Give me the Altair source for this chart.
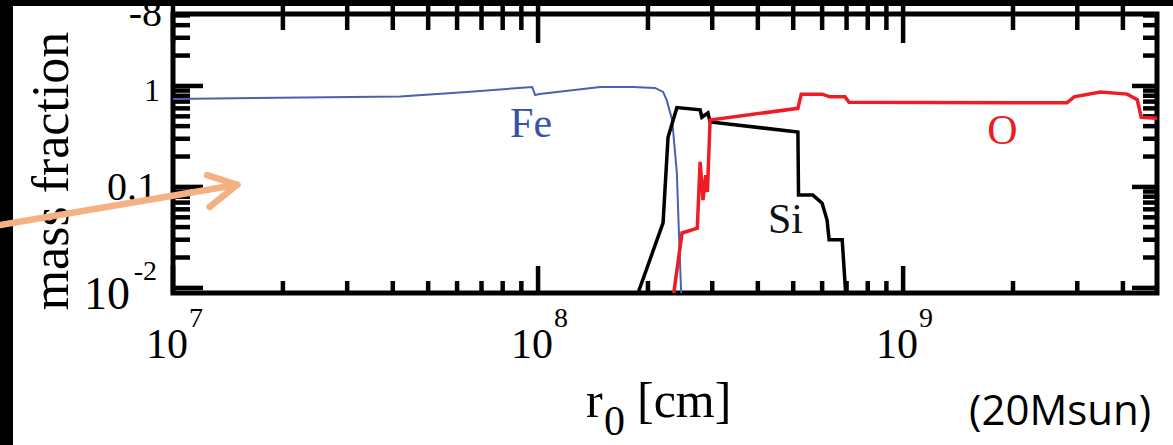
import altair as alt
import pandas as pd

# ---------------- data ----------------
fe_x = [1.0e7, 4.19e7, 6.38e7, 9.64e7, 9.82e7, 1.01e8, 1.48e8, 1.82e8, 2.09e8,
        2.20e8, 2.25e8, 2.33e8, 2.40e8, 2.43e8, 2.47e8]
fe_y = [0.743, 0.787, 0.872, 0.977, 0.814, 0.834, 0.977, 0.977, 0.955,
        0.872, 0.727, 0.461, 0.138, 0.0375, 0.0076]

si_x = [1.85e8, 2.20e8, 2.27e8, 2.40e8, 2.78e8, 2.81e8, 2.92e8, 2.96e8, 5.15e8,
        5.17e8, 5.66e8, 6.00e8, 6.19e8, 6.27e8, 6.81e8, 6.98e8]
si_y = [0.0076, 0.044, 0.31, 0.61, 0.58, 0.49, 0.54, 0.44, 0.35,
        0.083, 0.083, 0.069, 0.047, 0.030, 0.030, 0.0076]

o_x = [2.34e8, 2.48e8, 2.73e8, 2.78e8, 2.83e8, 2.88e8, 2.91e8, 2.96e8, 5.15e8,
       5.26e8, 6.00e8, 6.31e8, 6.93e8, 7.11e8, 2.81e9, 2.94e9, 3.47e9, 4.11e9,
       4.38e9, 4.49e9, 4.96e9]
o_y = [0.0076, 0.035, 0.039, 0.177, 0.074, 0.131, 0.089, 0.46, 0.60,
       0.83, 0.83, 0.78, 0.78, 0.69, 0.68, 0.78, 0.87, 0.83,
       0.73, 0.49, 0.48]

label_text = ["Fe", "Si", "O"]
label_x = [9.57e7, 4.76e8, 1.87e9]
label_y = [0.313, 0.035, 0.267]
label_color = ["#3953a4", "#111111", "#ed1c24"]

x_major = [1e7, 1e8, 1e9]
x_major_exp = ["7", "8", "9"]
x_minor = [2e7, 3e7, 4e7, 5e7, 6e7, 7e7, 8e7, 9e7,
           2e8, 3e8, 4e8, 5e8, 6e8, 7e8, 8e8, 9e8,
           2e9, 3e9, 4e9]
y_major = [0.01, 0.1, 1]
y_minor = [0.02, 0.03, 0.04, 0.05, 0.06, 0.07, 0.08, 0.09,
           0.2, 0.3, 0.4, 0.5, 0.6, 0.7, 0.8, 0.9,
           2, 3, 4, 5]

# annotation arrow (data coordinates)
arrow_x = [3.36e6, 1.50e7]
arrow_y = [0.042, 0.105]
wing_x = [1.24e7, 1.26e7]
wing_y = [0.131, 0.0634]

# ---------------- layout ----------------
W, H = 984, 279
xs = alt.Scale(type="log", domain=[1e7, 4.96e9])
ys = alt.Scale(type="log", domain=[0.0089, 5.16])
SERIF = "Liberation Serif"


def X(f="x"):
    return alt.X(f + ":Q", scale=xs, axis=None)


def Y(f="y"):
    return alt.Y(f + ":Q", scale=ys, axis=None)


def series(xv, yv):
    return pd.DataFrame({"x": xv, "y": yv, "i": list(range(len(xv)))})


layers = []

# ticks
xmaj = pd.DataFrame({"x": x_major, "e": x_major_exp})
xmin = pd.DataFrame({"x": x_minor})
ymaj = pd.DataFrame({"y": y_major})
ymin = pd.DataFrame({"y": y_minor})
tk = dict(color="black", strokeWidth=4.5, strokeCap="butt")
for df, a, b in [(xmaj, H - 27, H), (xmin, H - 12, H), (xmaj, -8, 29), (xmin, -8, 16)]:
    layers.append(alt.Chart(df).mark_rule(**tk).encode(
        x=X(), y=alt.value(a), y2=alt.value(b)))
for df, a, b in [(ymaj, 0, 30), (ymin, 0, 17), (ymaj, W - 25, W), (ymin, W - 14, W)]:
    layers.append(alt.Chart(df).mark_rule(**tk).encode(
        y=Y(), x=alt.value(a), x2=alt.value(b)))

# lines
layers.append(alt.Chart(series(fe_x, fe_y)).mark_line(
    color="#4a60b0", strokeWidth=2, clip=True).encode(x=X(), y=Y(), order="i:Q"))
layers.append(alt.Chart(series(si_x, si_y)).mark_line(
    color="#000000", strokeWidth=3.5, clip=True).encode(x=X(), y=Y(), order="i:Q"))
layers.append(alt.Chart(series(o_x, o_y)).mark_line(
    color="#ee1c24", strokeWidth=3.5, clip=True).encode(x=X(), y=Y(), order="i:Q"))

# series labels
lab = pd.DataFrame({"x": label_x, "y": label_y, "t": label_text, "c": label_color})
layers.append(alt.Chart(lab).mark_text(
    font=SERIF, fontSize=42, align="center", baseline="alphabetic").encode(
    x=X(), y=Y(), text="t:N", color=alt.Color("c:N", scale=None)))

# x tick labels
layers.append(alt.Chart(xmaj).mark_text(
    font=SERIF, fontSize=42, align="right", baseline="alphabetic", dx=15, color="black").encode(
    x=X(), y=alt.value(H + 65), text=alt.value("10")))
layers.append(alt.Chart(xmaj).mark_text(
    font=SERIF, fontSize=28, align="left", baseline="alphabetic", dx=16, color="black").encode(
    x=X(), y=alt.value(H + 34), text="e:N"))

# y tick labels
ylab = pd.DataFrame({"y": [1, 0.1], "t": ["1", "0.1"]})
layers.append(alt.Chart(ylab[ylab.t == "1"]).mark_text(
    font=SERIF, fontSize=32, align="right", baseline="middle", dx=-13, dy=5, color="black").encode(
    y=Y(), x=alt.value(0), text="t:N"))
layers.append(alt.Chart(ylab[ylab.t == "0.1"]).mark_text(
    font=SERIF, fontSize=40, align="right", baseline="middle", dx=-16, dy=1, color="black").encode(
    y=Y(), x=alt.value(0), text="t:N"))
y01 = pd.DataFrame({"y": [0.01]})
layers.append(alt.Chart(y01).mark_text(
    font=SERIF, fontSize=46, align="right", baseline="middle", dx=-43, dy=7, color="black").encode(
    y=Y(), x=alt.value(0), text=alt.value("10")))
layers.append(alt.Chart(y01).mark_text(
    font=SERIF, fontSize=28, align="right", baseline="middle", dx=-16, dy=-16, color="black").encode(
    y=Y(), x=alt.value(0), text=alt.value("-2")))
# label of the panel above, cut by the frame
layers.append(alt.Chart(y01).mark_text(
    font=SERIF, fontSize=40, align="right", baseline="middle", color="black").encode(
    x=alt.value(-11), y=alt.value(0), text=alt.value("-8")))

# axis titles
layers.append(alt.Chart(y01).mark_text(
    font=SERIF, fontSize=52, align="center", baseline="alphabetic", angle=270, color="black").encode(
    x=alt.value(-105), y=alt.value(157), text=alt.value("mass fraction")))
layers.append(alt.Chart(y01).mark_text(
    font=SERIF, fontSize=50, align="left", baseline="alphabetic", color="black").encode(
    x=alt.value(413), y=alt.value(403), text=alt.value("r")))
layers.append(alt.Chart(y01).mark_text(
    font=SERIF, fontSize=42, align="left", baseline="alphabetic", color="black").encode(
    x=alt.value(431), y=alt.value(421), text=alt.value("0")))
layers.append(alt.Chart(y01).mark_text(
    font=SERIF, fontSize=50, align="left", baseline="alphabetic", color="black").encode(
    x=alt.value(464), y=alt.value(403), text=alt.value("[cm]")))
layers.append(alt.Chart(y01).mark_text(
    font="Open Sans", fontSize=42, align="left", baseline="alphabetic", color="black").encode(
    x=alt.value(796), y=alt.value(411), text=alt.value("(20Msun)")))

# black frame of the picture
layers.append(alt.Chart(y01).mark_rect(color="black").encode(
    x=alt.value(-173), x2=alt.value(-160), y=alt.value(-14), y2=alt.value(440)))
layers.append(alt.Chart(y01).mark_rect(color="black").encode(
    x=alt.value(-173), x2=alt.value(1000), y=alt.value(-14), y2=alt.value(-8)))

# arrow
arr = pd.DataFrame({"x": [arrow_x[0], wing_x[0], wing_x[1]],
                    "y": [arrow_y[0], wing_y[0], wing_y[1]],
                    "x2": [arrow_x[1]] * 3, "y2": [arrow_y[1]] * 3})
layers.append(alt.Chart(arr).mark_rule(
    color="#f4b183", strokeWidth=6.5, strokeCap="round", clip=False).encode(
    x=X(), y=Y(), x2="x2:Q", y2="y2:Q"))

chart = alt.layer(*layers).properties(
    width=W, height=H,
    padding={"left": 173, "top": 14, "right": 16, "bottom": 152},
    autosize=alt.AutoSizeParams(type="none"),
    background="white",
).configure_view(stroke="black", strokeWidth=5)

chart.save("out.html", embed_options={"renderer": "svg", "actions": False})
